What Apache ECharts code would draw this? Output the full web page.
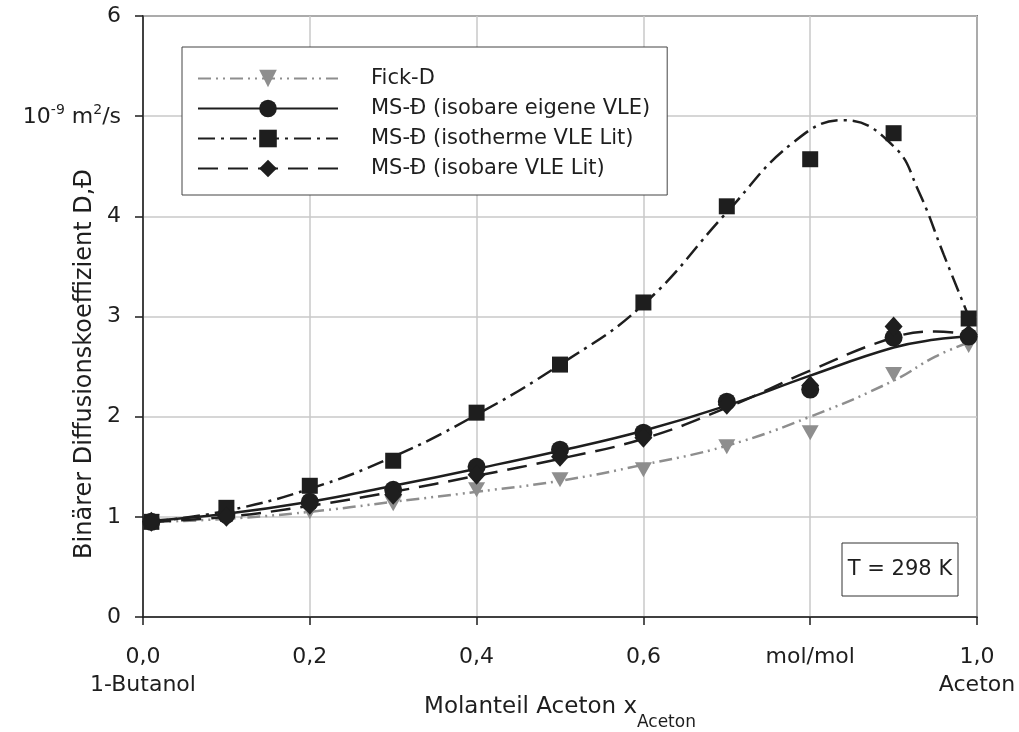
<!DOCTYPE html>
<html>
<head>
<meta charset="utf-8">
<script src="https://cdn.jsdelivr.net/npm/echarts@6/dist/echarts.min.js"></script>
<style>
  html, body { margin: 0; padding: 0; background: #fff; }
  #main { width: 1019px; height: 732px; }
</style>
</head>
<body>
<div id="main"></div>
<script>
// Messpunkte
var seriesNames = ['Fick-D', 'MS-Đ (isobare eigene VLE)', 'MS-Đ (isotherme VLE Lit)', 'MS-Đ (isobare VLE Lit)'];
var xMeas = [0.01, 0.1, 0.2, 0.3, 0.4, 0.5, 0.6, 0.7, 0.8, 0.9, 0.99];
var fickMeas = [0.95, 0.98, 1.05, 1.13, 1.27, 1.37, 1.47, 1.70, 1.84, 2.42, 2.71];
var msEigeneMeas = [0.95, 1.02, 1.15, 1.27, 1.50, 1.67, 1.84, 2.15, 2.27, 2.79, 2.80];
var msIsothermMeas = [0.95, 1.09, 1.31, 1.56, 2.04, 2.52, 3.14, 4.10, 4.57, 4.83, 2.98];
var msIsobarMeas = [0.95, 1.00, 1.12, 1.22, 1.42, 1.60, 1.79, 2.12, 2.31, 2.90, 2.82];

// Ausgleichskurven
var fickCurve = [[0.01, 0.95], [0.1, 0.98], [0.2, 1.05], [0.3, 1.15], [0.4, 1.25], [0.5, 1.36],
  [0.6, 1.52], [0.7, 1.71], [0.8, 2.00], [0.9, 2.36], [0.95, 2.60], [0.99, 2.74]];
var msEigeneCurve = [[0.01, 0.96], [0.1, 1.03], [0.2, 1.15], [0.3, 1.31], [0.4, 1.48], [0.5, 1.66],
  [0.6, 1.86], [0.7, 2.11], [0.8, 2.41], [0.9, 2.69], [0.95, 2.77], [0.99, 2.80]];
var msIsothermCurve = [[0.01, 0.95], [0.1, 1.06], [0.2, 1.28], [0.3, 1.60], [0.4, 2.02], [0.5, 2.52],
  [0.6, 3.12], [0.7, 4.04], [0.78, 4.74], [0.84, 4.96], [0.9, 4.70],
  [0.93, 4.25], [0.96, 3.62], [0.99, 3.00]];
var msIsobarCurve = [[0.01, 0.95], [0.1, 1.00], [0.2, 1.11], [0.3, 1.25], [0.4, 1.41], [0.5, 1.58],
  [0.6, 1.78], [0.7, 2.09], [0.8, 2.46], [0.9, 2.79], [0.95, 2.85], [0.99, 2.82]];

var xTickLabels = ['0,0\n1-Butanol', '0,2', '0,4', '0,6', 'mol/mol', '1,0\nAceton'];

var FONT = 'DejaVu Sans';
var BLACK = '#1e1e1e';
var GRAY = '#8e8e8e';

function pairs(xs, ys) {
  return xs.map(function (x, i) { return [x, ys[i]]; });
}

var myChart = echarts.init(document.getElementById('main'));

var curveDefs = [
  { name: seriesNames[0], data: fickCurve, color: GRAY, type: [13, 5, 2, 5, 2, 5], symbol: 'triangle', rotate: 180 },
  { name: seriesNames[1], data: msEigeneCurve, color: BLACK, type: 'solid', symbol: 'circle', rotate: 0 },
  { name: seriesNames[2], data: msIsothermCurve, color: BLACK, type: [17, 6, 3, 6], symbol: 'rect', rotate: 0 },
  { name: seriesNames[3], data: msIsobarCurve, color: BLACK, type: [20, 10], symbol: 'diamond', rotate: 0 }
];
var measDefs = [
  { name: seriesNames[0], data: pairs(xMeas, fickMeas), color: GRAY, symbol: 'triangle', rotate: 180, size: [17, 15] },
  { name: seriesNames[1], data: pairs(xMeas, msEigeneMeas), color: BLACK, symbol: 'circle', rotate: 0, size: 18 },
  { name: seriesNames[2], data: pairs(xMeas, msIsothermMeas), color: BLACK, symbol: 'rect', rotate: 0, size: 16 },
  { name: seriesNames[3], data: pairs(xMeas, msIsobarMeas), color: BLACK, symbol: 'diamond', rotate: 0, size: [18, 20] }
];

var series = [];
curveDefs.forEach(function (c) {
  series.push({
    name: c.name,
    type: 'line',
    data: c.data,
    smooth: 0.45,
    symbol: c.symbol,
    symbolRotate: c.rotate,
    showSymbol: false,
    lineStyle: { color: c.color, width: 2.5, type: c.type },
    itemStyle: { color: c.color },
    z: 2
  });
});
measDefs.forEach(function (m) {
  series.push({
    name: m.name,
    type: 'scatter',
    data: m.data,
    symbol: m.symbol,
    symbolRotate: m.rotate,
    symbolSize: m.size,
    itemStyle: { color: m.color, opacity: 1 },
    z: 3
  });
});

var option = {
  animation: false,
  backgroundColor: '#fff',
  textStyle: { fontFamily: FONT },
  grid: {
    left: 143, right: 42, top: 16, bottom: 115,
    show: true, borderColor: BLACK, borderWidth: 1.5,
    outerBoundsMode: 'none'
  },
  legend: {
    data: seriesNames,
    orient: 'vertical',
    left: 182,
    top: 47,
    padding: [21, 17, 16, 15],
    itemWidth: 140,
    itemHeight: 22,
    itemGap: 9,
    backgroundColor: '#fff',
    borderColor: '#444',
    borderWidth: 1,
    textStyle: { fontFamily: FONT, fontSize: 21, color: BLACK, padding: [0, 0, 0, 28] }
  },
  xAxis: {
    type: 'value',
    min: 0, max: 1, interval: 0.2,
    axisLine: { lineStyle: { color: BLACK, width: 1.5 } },
    axisTick: { inside: false, length: 8, lineStyle: { color: BLACK, width: 1.5 } },
    splitLine: { show: true, lineStyle: { color: '#c8c8c8', width: 1.5 } },
    axisLabel: {
      margin: 26,
      fontFamily: FONT, fontSize: 22, color: BLACK, lineHeight: 28,
      formatter: function (v) { return xTickLabels[Math.round(v / 0.2)]; }
    },
    name: '{a|Molanteil Aceton x}{s|Aceton}',
    nameLocation: 'middle',
    nameGap: 79,
    nameMoveOverlap: false,
    nameTextStyle: {
      rich: {
        a: { fontFamily: FONT, fontSize: 23, color: BLACK, verticalAlign: 'top' },
        s: { fontFamily: FONT, fontSize: 17, color: BLACK, verticalAlign: 'bottom', padding: [18, 0, 0, 0] }
      }
    }
  },
  yAxis: {
    type: 'value',
    min: 0, max: 6, interval: 1,
    axisLine: { show: true, lineStyle: { color: BLACK, width: 1.5 } },
    axisTick: { show: true, inside: false, length: 8, lineStyle: { color: BLACK, width: 1.5 } },
    splitLine: { show: true, lineStyle: { color: '#c8c8c8', width: 1.5 } },
    axisLabel: {
      margin: 22,
      fontFamily: FONT, fontSize: 22, color: BLACK,
      formatter: function (v) {
        if (v === 5) return '{n|10}{p|-9}{n| m}{p|2}{n|/s}';
        return String(v);
      },
      rich: {
        n: { fontFamily: FONT, fontSize: 22, color: BLACK, verticalAlign: 'bottom' },
        p: { fontFamily: FONT, fontSize: 14, color: BLACK, verticalAlign: 'top', padding: [0, 0, 11, 0] }
      }
    }
  },
  graphic: [
    {
      type: 'text',
      x: 85, y: 364,
      rotation: Math.PI / 2,
      style: {
        text: 'Binärer Diffusionskoeffizient D,Đ',
        fontFamily: FONT, fontSize: 24, fill: BLACK,
        align: 'center', verticalAlign: 'middle'
      }
    },
    {
      type: 'rect',
      shape: { x: 842, y: 543, width: 116, height: 53 },
      style: { fill: '#fff', stroke: '#333', lineWidth: 1 },
      z: 10
    },
    {
      type: 'text',
      x: 900, y: 570,
      style: {
        text: 'T = 298 K',
        fontFamily: FONT, fontSize: 21, fill: BLACK,
        align: 'center', verticalAlign: 'middle'
      },
      z: 11
    }
  ],
  series: series
};

myChart.setOption(option);
window.onresize = myChart.resize;
</script>
</body>
</html>
